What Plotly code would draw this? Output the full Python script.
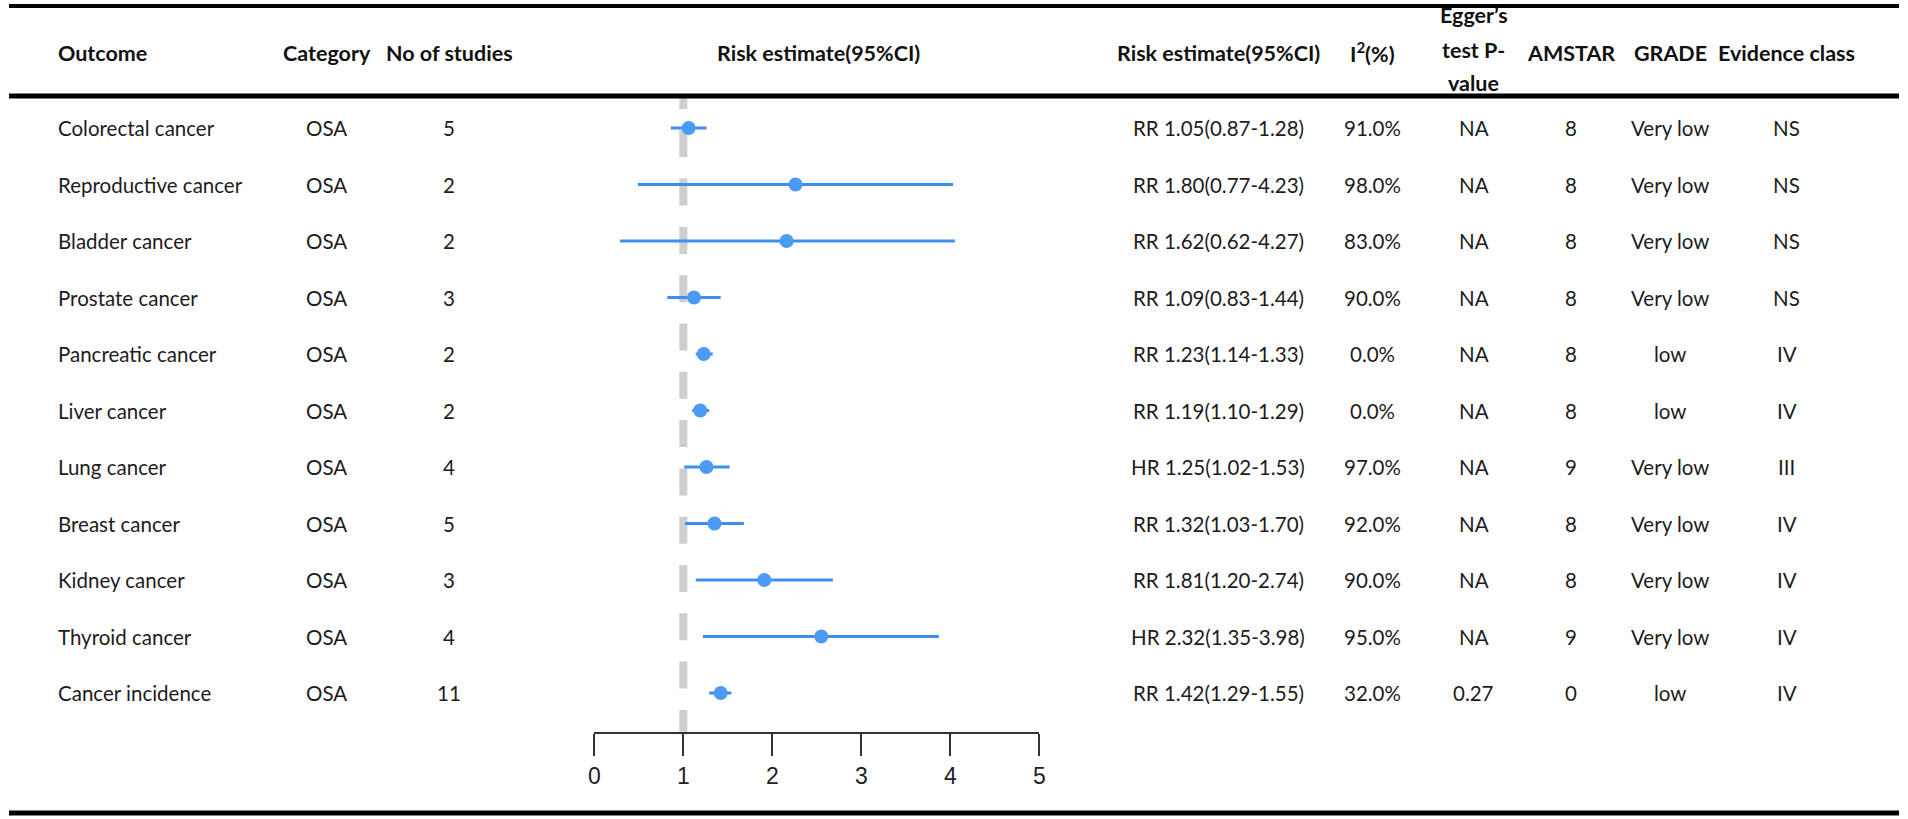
import plotly.graph_objects as go

outcomes = [
    "Colorectal cancer", "Reproductive cancer", "Bladder cancer", "Prostate cancer",
    "Pancreatic cancer", "Liver cancer", "Lung cancer", "Breast cancer",
    "Kidney cancer", "Thyroid cancer", "Cancer incidence",
]
category = ["OSA", "OSA", "OSA", "OSA", "OSA", "OSA", "OSA", "OSA", "OSA", "OSA", "OSA"]
n_studies = [5, 2, 2, 3, 2, 2, 4, 5, 3, 4, 11]

# plotted point estimates and CI ends, as drawn in the forest plot
estimate = [1.06, 2.26, 2.16, 1.12, 1.23, 1.19, 1.26, 1.35, 1.91, 2.55, 1.42]
ci_low = [0.86, 0.49, 0.29, 0.82, 1.14, 1.10, 1.01, 1.02, 1.14, 1.22, 1.29]
ci_high = [1.26, 4.03, 4.05, 1.42, 1.33, 1.29, 1.52, 1.68, 2.68, 3.87, 1.54]
reference_value = 1

estimate_text = [
    "RR 1.05(0.87-1.28)", "RR 1.80(0.77-4.23)", "RR 1.62(0.62-4.27)", "RR 1.09(0.83-1.44)",
    "RR 1.23(1.14-1.33)", "RR 1.19(1.10-1.29)", "HR 1.25(1.02-1.53)", "RR 1.32(1.03-1.70)",
    "RR 1.81(1.20-2.74)", "HR 2.32(1.35-3.98)", "RR 1.42(1.29-1.55)",
]
i_squared = ["91.0%", "98.0%", "83.0%", "90.0%", "0.0%", "0.0%", "97.0%", "92.0%", "90.0%", "95.0%", "32.0%"]
egger_p = ["NA", "NA", "NA", "NA", "NA", "NA", "NA", "NA", "NA", "NA", "0.27"]
amstar = [8, 8, 8, 8, 8, 8, 9, 8, 8, 9, 0]
grade = ["Very low", "Very low", "Very low", "Very low", "low", "low",
         "Very low", "Very low", "Very low", "Very low", "low"]
evidence_class = ["NS", "NS", "NS", "NS", "IV", "IV", "III", "IV", "IV", "IV", "IV"]
x_ticks = [0, 1, 2, 3, 4, 5]

W, H = 1908, 819
FONT = "Lato"
TXT = "#1c1c1c"
HEAD = "#111111"
ROW0, ROW_STEP = 128, 56.5      # pixel centre of first row, row pitch
PLOT_TOP, AXIS_Y = 98, 732      # pixel rows of plot top and x axis line
DASH, GAP = 27, 21.3            # reference line dash pattern, px


def px_x(px):
    return px / W


def px_y(px):
    return 1 - px / H


def px_to_row(px):
    return (px - ROW0) / ROW_STEP


rows = list(range(len(outcomes)))
y_top = px_to_row(PLOT_TOP)
y_bottom = px_to_row(AXIS_Y)

# dashed reference line, built as separate segments (first one is clipped at plot top)
ref_x, ref_y = [], []
start = 82
while start < AXIS_Y:
    ref_x += [reference_value, reference_value, None]
    ref_y += [px_to_row(start), px_to_row(min(start + DASH, AXIS_Y)), None]
    start += DASH + GAP

fig = go.Figure()
fig.add_trace(go.Scatter(
    x=ref_x, y=ref_y, mode="lines",
    line=dict(color="#cecece", width=8),
    hoverinfo="skip", showlegend=False,
))
fig.add_trace(go.Scatter(
    x=estimate, y=rows, mode="markers",
    marker=dict(size=14, color="#4b9bf6"),
    error_x=dict(
        type="data", symmetric=False,
        array=[h - e for h, e in zip(ci_high, estimate)],
        arrayminus=[e - l for e, l in zip(estimate, ci_low)],
        color="#3d8ef2", thickness=3, width=0,
    ),
    hoverinfo="skip", showlegend=False,
))

# table columns: (header lines, values, centre px)
columns = [
    (["Category"], category, 323),
    (["No of studies"], n_studies, 446),
    (["Risk estimate(95%CI)"], None, 818),
    (["Risk estimate(95%CI)"], estimate_text, 1220),
    (["I<sup>2</sup>(%)"], i_squared, 1375),
    (["Egger\u2019s", "test P-", "value"], egger_p, 1477),
    (["AMSTAR"], amstar, 1575),
    (["GRADE"], grade, 1675),
    (["Evidence class"], evidence_class, 1792),
]

annotations = []
annotations.append(dict(
    text="<b>Outcome</b>", x=px_x(50), y=px_y(53), xref="paper", yref="paper",
    xanchor="left", yanchor="middle", showarrow=False,
    font=dict(family=FONT, size=21.5, color=HEAD),
))
for i, name in zip(rows, outcomes):
    annotations.append(dict(
        text=name, x=px_x(50), y=i, xref="paper", yref="y",
        xanchor="left", yanchor="middle", showarrow=False,
        font=dict(family=FONT, size=20.5, color=TXT),
    ))

for header, values, cx in columns:
    if len(header) == 1:
        header_y = [53]
    else:
        header_y = [15, 50, 83]
    for line, hy in zip(header, header_y):
        annotations.append(dict(
            text="<b>" + line + "</b>", x=px_x(cx), y=px_y(hy), xref="paper", yref="paper",
            xanchor="center", yanchor="middle", showarrow=False,
            font=dict(family=FONT, size=21.5, color=HEAD),
        ))
    if values is None:
        continue
    for i, v in zip(rows, values):
        annotations.append(dict(
            text=str(v), x=px_x(cx), y=i, xref="paper", yref="y",
            xanchor="center", yanchor="middle", showarrow=False,
            font=dict(family=FONT, size=20.5, color=TXT),
        ))

rules = []
for y_px, lw in [(6, 4), (96, 5), (813, 5)]:
    rules.append(dict(
        type="line", xref="paper", yref="paper",
        x0=px_x(3), x1=px_x(1905), y0=px_y(y_px), y1=px_y(y_px),
        line=dict(color="#000000", width=lw),
    ))

fig.update_layout(
    width=W, height=H,
    margin=dict(l=0, r=0, t=0, b=0),
    paper_bgcolor="white", plot_bgcolor="white",
    xaxis=dict(
        domain=[px_x(592), px_x(1040)], range=[0, 5],
        tickvals=x_ticks, ticktext=[str(t) for t in x_ticks],
        showgrid=False, zeroline=False,
        showline=True, linecolor="#333333", linewidth=2,
        ticks="outside", ticklen=22, tickwidth=2, tickcolor="#333333",
        tickfont=dict(family="Liberation Sans", size=23, color="#222222"),
        fixedrange=True,
    ),
    yaxis=dict(
        domain=[px_y(AXIS_Y), px_y(PLOT_TOP)], range=[y_bottom, y_top],
        showgrid=False, zeroline=False, showline=False, showticklabels=False,
        ticks="", fixedrange=True,
    ),
    annotations=annotations,
    shapes=rules,
)

# page body margin would shift the figure off the window
fig.write_html(
    "out.html",
    config={"displayModeBar": False},
    post_script="document.body.style.margin = '0';",
)
